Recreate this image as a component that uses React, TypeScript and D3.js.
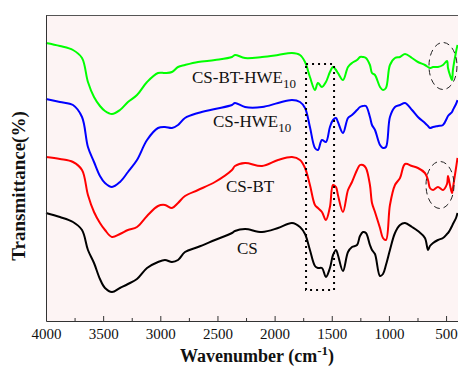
import React, { useEffect, useRef } from "react";
import * as d3 from "d3";

// wavenumber grid (cm-1), shared by all four spectra
const wavenumbers = [
  4000, 3878, 3764, 3685, 3633, 3580, 3528, 3484, 3423, 3353, 3283, 3204, 3116,
  3020, 2959, 2898, 2845, 2784, 2670, 2522, 2373, 2347, 2259, 2110, 1970, 1848,
  1778, 1734, 1691, 1647, 1621, 1586, 1551, 1516, 1489, 1463, 1446, 1402, 1358,
  1323, 1279, 1253, 1227, 1201, 1166, 1148, 1122, 1078, 1052, 1026, 991, 947,
  903, 859, 798, 746, 685, 658, 641, 614, 571, 527, 492, 483, 466, 448, 440,
  413, 400,
];

// stacked transmittance (a.u., offset per curve)
const csValues = [
  108, 104, 99, 91, 71, 58, 42, 33, 29, 33, 37, 42, 53, 59, 61, 59, 61, 69, 74,
  81, 88, 90, 92, 89, 93, 98, 94, 87, 71, 55, 53, 53, 44, 53, 66, 71, 66, 50,
  69, 74, 76, 85, 89, 88, 76, 71, 67, 45, 47, 56, 71, 88, 96, 98, 94, 90, 83,
  71, 75, 78, 81, 83, 87, 88, 91, 95, 97, 103, 108,
];
const csBtValues = [
  164, 162, 159, 151, 126, 109, 98, 91, 84, 87, 91, 94, 105, 115, 116, 113, 118,
  125, 131, 139, 151, 155, 158, 155, 161, 164, 161, 153, 136, 116, 113, 109,
  101, 114, 136, 134, 126, 109, 131, 139, 151, 156, 156, 153, 136, 118, 109, 93,
  83, 81, 116, 136, 143, 157, 155, 153, 148, 141, 133, 131, 134, 131, 137, 145,
  136, 128, 133, 153, 163,
];
const csHweValues = [
  222, 219, 216, 204, 174, 159, 145, 138, 134, 139, 149, 161, 181, 193, 194,
  193, 196, 203, 208, 212, 216, 218, 214, 214, 218, 221, 219, 213, 194, 173,
  171, 181, 179, 194, 201, 203, 199, 188, 203, 206, 211, 214, 215, 215, 204,
  196, 191, 176, 173, 174, 204, 214, 216, 218, 211, 204, 198, 195, 193, 194,
  195, 196, 203, 205, 207, 209, 211, 217, 221,
];
const csBtHweValues = [
  278, 275, 271, 263, 239, 224, 215, 210, 207, 211, 219, 226, 239, 248, 248,
  249, 254, 256, 259, 261, 264, 266, 263, 264, 266, 268, 266, 259, 244, 231,
  238, 234, 239, 249, 254, 251, 248, 241, 254, 258, 261, 264, 264, 263, 256,
  248, 246, 234, 231, 233, 256, 263, 264, 267, 263, 259, 256, 254, 253, 254,
  254, 256, 260, 253, 246, 241, 251, 269, 276,
];

const seriesValues = [csValues, csBtValues, csHweValues, csBtHweValues];
const seriesColors = ["#000000", "#ff0000", "#0000ff", "#00ff00"];
// label: name, subscript, anchor wavenumber, anchor value
const labelNames = ["CS", "CS-BT", "CS-HWE", "CS-BT-HWE"];
const labelSubs = ["", "", "10", "10"];
const labelWn = [2329, 2425, 2539, 2723];
const labelVal = [67, 129, 194, 238];

const xTicks = [4000, 3500, 3000, 2500, 2000, 1500, 1000, 500];
const xMinorTicks = [3750, 3250, 2750, 2250, 1750, 1250, 750];

// highlighted regions
const boxWn = [1725, 1480];
const boxVal = [31, 257];
const ellipseWn = [527, 553];
const ellipseVal = [255, 136];

const width = 458;
const height = 369;
const margin = { top: 15, right: 0.5, bottom: 48, left: 46 };

const App = () => {
  const ref = useRef(null);

  useEffect(() => {
    document.body.style.margin = "0";
    const svg = d3.select(ref.current);
    svg.selectAll("*").remove();

    const xScale = d3
      .scaleLinear()
      .domain([4000, 400])
      .range([margin.left, width - margin.right]);
    const yScale = d3
      .scaleLinear()
      .domain([0, 306])
      .range([height - margin.bottom, margin.top]);

    svg
      .append("rect")
      .attr("x", margin.left)
      .attr("y", margin.top)
      .attr("width", width - margin.left)
      .attr("height", height - margin.bottom - margin.top)
      .attr("fill", "#fdf4f4");

    // top frame
    svg
      .append("line")
      .attr("x1", margin.left)
      .attr("x2", width)
      .attr("y1", margin.top + 0.5)
      .attr("y2", margin.top + 0.5)
      .attr("stroke", "#555")
      .attr("stroke-width", 1);

    const line = d3
      .line()
      .x((d) => xScale(d[0]))
      .y((d) => yScale(d[1]))
      .curve(d3.curveCatmullRom.alpha(0.5));

    seriesValues.forEach((vals, i) => {
      const pts = wavenumbers.map((w, j) => [w, vals[j]]);
      svg
        .append("path")
        .attr("d", line(pts))
        .attr("fill", "none")
        .attr("stroke", seriesColors[i])
        .attr("stroke-width", 2)
        .attr("stroke-linejoin", "round");
    });

    // dotted box
    svg
      .append("rect")
      .attr("x", xScale(boxWn[0]))
      .attr("y", yScale(boxVal[1]))
      .attr("width", xScale(boxWn[1]) - xScale(boxWn[0]))
      .attr("height", yScale(boxVal[0]) - yScale(boxVal[1]))
      .attr("fill", "none")
      .attr("stroke", "#000")
      .attr("stroke-width", 2)
      .attr("stroke-dasharray", "2,4");

    ellipseWn.forEach((w, i) => {
      svg
        .append("ellipse")
        .attr("cx", xScale(w))
        .attr("cy", yScale(ellipseVal[i]))
        .attr("rx", 14)
        .attr("ry", 23.5)
        .attr("fill", "none")
        .attr("stroke", "#222")
        .attr("stroke-width", 1)
        .attr("stroke-dasharray", "6,4");
    });

    labelNames.forEach((name, i) => {
      const t = svg
        .append("text")
        .attr("x", xScale(labelWn[i]))
        .attr("y", yScale(labelVal[i]))
        .attr("font-family", "Liberation Serif, Times New Roman, serif")
        .attr("font-size", 17)
        .attr("fill", "#111")
        .text(name);
      if (labelSubs[i])
        t.append("tspan").attr("dy", 5).attr("font-size", 13).text(labelSubs[i]);
    });

    // bottom axis, ticks pointing inward
    const xAxis = d3
      .axisBottom(xScale)
      .tickValues(xTicks)
      .tickSizeInner(-5)
      .tickSizeOuter(0)
      .tickPadding(7)
      .tickFormat(d3.format("d"));
    const gx = svg
      .append("g")
      .attr("transform", `translate(0,${height - margin.bottom})`)
      .call(xAxis);
    gx.selectAll("text")
      .attr("font-family", "Liberation Serif, Times New Roman, serif")
      .attr("font-size", 15)
      .attr("fill", "#111");
    gx.selectAll("line, path").attr("stroke", "#333");

    const gxMinor = svg
      .append("g")
      .attr("transform", `translate(0,${height - margin.bottom})`)
      .call(
        d3
          .axisBottom(xScale)
          .tickValues(xMinorTicks)
          .tickSizeInner(-3)
          .tickSizeOuter(0)
          .tickFormat(() => "")
      );
    gxMinor.select(".domain").remove();
    gxMinor.selectAll("line").attr("stroke", "#333");

    // left axis
    const gy = svg
      .append("g")
      .attr("transform", `translate(${margin.left},0)`)
      .call(d3.axisLeft(yScale).tickValues([]).tickSizeOuter(0));
    gy.selectAll("path").attr("stroke", "#333");

    svg
      .append("text")
      .attr("transform", `translate(25,${(margin.top + height - margin.bottom) / 2 + 18}) rotate(-90)`)
      .attr("text-anchor", "middle")
      .attr("font-family", "Liberation Serif, Times New Roman, serif")
      .attr("font-weight", "bold")
      .attr("font-size", 19)
      .attr("fill", "#111")
      .text("Transmittance(%)");

    const xt = svg
      .append("text")
      .attr("x", 180)
      .attr("y", 362)
      .attr("font-family", "Liberation Serif, Times New Roman, serif")
      .attr("font-weight", "bold")
      .attr("font-size", 18)
      .attr("fill", "#111");
    xt.append("tspan").text("Wavenumber (cm");
    xt.append("tspan").attr("dy", -7).attr("font-size", 13).text("-1");
    xt.append("tspan").attr("dy", 7).text(")");
  }, []);

  return <svg ref={ref} width={width} height={height} style={{ display: "block" }} />;
};

export default App;
